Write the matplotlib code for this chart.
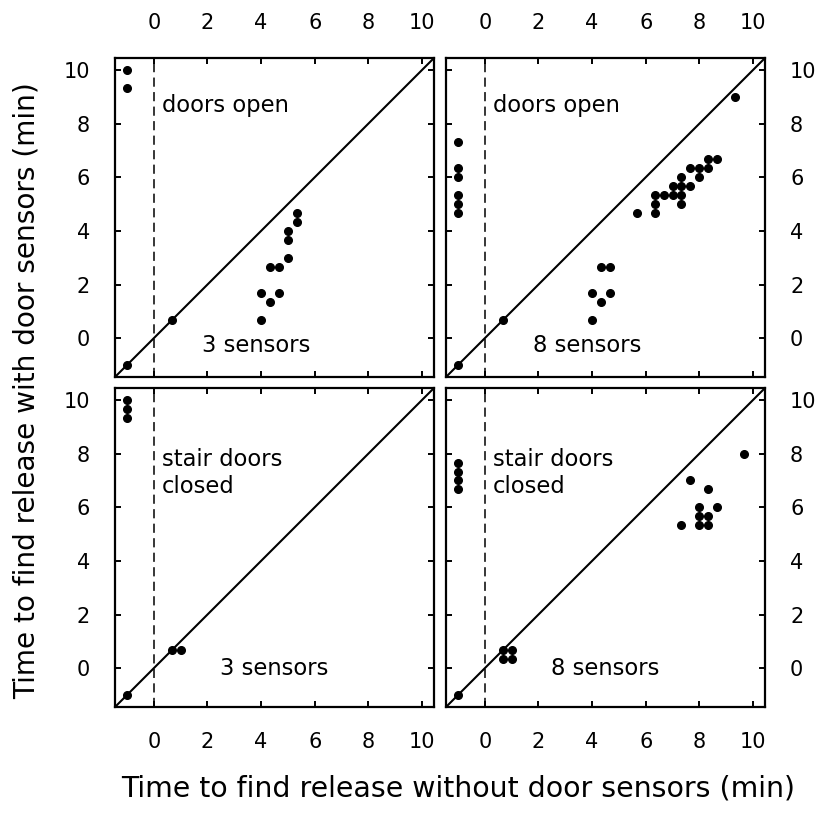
import matplotlib
matplotlib.use("Agg")
import matplotlib.pyplot as plt
import numpy as np

plt.rcParams['font.family'] = ['DejaVu Sans']

# ---- data (minutes) ----
tl_x = [-1, -1, -1, 0.67, 4, 4, 4.33, 4.33, 4.67, 4.67, 5, 5, 5, 5.33, 5.33]
tl_y = [10, 9.33, -1, 0.67, 0.67, 1.67, 1.33, 2.67, 2.67, 1.67, 3, 3.67, 4, 4.33, 4.67]

tr_x = [-1, -1, -1, -1, -1, -1, -1, 0.67, 4, 4, 4.33, 4.33, 4.67, 4.67,
        5.67, 6.33, 6.33, 6.33, 6.67, 7, 7, 7.33, 7.33, 7.33, 7.33,
        7.67, 7.67, 8, 8, 8.33, 8.33, 8.67, 9.33]
tr_y = [7.33, 6.33, 6, 5.33, 5, 4.67, -1, 0.67, 0.67, 1.67, 1.33, 2.67, 2.67, 1.67,
        4.67, 4.67, 5, 5.33, 5.33, 5.33, 5.67, 5, 5.33, 5.67, 6,
        5.67, 6.33, 6, 6.33, 6.33, 6.67, 6.67, 9]

bl_x = [-1, -1, -1, -1, 0.67, 1]
bl_y = [10, 9.67, 9.33, -1, 0.67, 0.67]

br_x = [-1, -1, -1, -1, -1, 0.67, 1, 0.67, 1, 7.67, 8.33, 8, 8.67, 8, 8.33, 7.33, 8, 8.33, 9.67]
br_y = [7.67, 7.33, 7, 6.67, -1, 0.67, 0.67, 0.33, 0.33, 7, 6.67, 6, 6, 5.67, 5.67, 5.33, 5.33, 5.33, 8]

ticks = [0, 2, 4, 6, 8, 10]
lim = (-1.45, 10.45)

conditions = ["doors open", "doors open", "stair doors\nclosed", "stair doors\nclosed"]
sensors = ["3 sensors", "8 sensors", "3 sensors", "8 sensors"]

fig = plt.figure(figsize=(8.22, 8.14), dpi=100)
W, H = 822, 814
boxes = [(115, 58), (446, 58), (115, 388), (446, 388)]
size = 319
datasets = [(tl_x, tl_y), (tr_x, tr_y), (bl_x, bl_y), (br_x, br_y)]

for i, ((px, py), (xs, ys)) in enumerate(zip(boxes, datasets)):
    ax = fig.add_axes([px / W, 1 - (py + size) / H, size / W, size / H])
    ax.set_xlim(lim)
    ax.set_ylim(lim)
    ax.plot(lim, lim, color='black', lw=1.5, zorder=2)
    ax.axvline(0, color='black', lw=1.1, ls=(0, (6, 3.5)), zorder=1)
    ax.plot(xs, ys, 'o', color='black', ms=5.5, zorder=3)
    ax.set_xticks(ticks)
    ax.set_yticks(ticks)
    top = i < 2
    left = i % 2 == 0
    ax.tick_params(direction='in', length=4, width=1.4, labelsize=15, pad=18,
                   top=True, bottom=True, left=True, right=True,
                   labeltop=top, labelbottom=not top,
                   labelleft=left, labelright=not left)
    for s in ax.spines.values():
        s.set_linewidth(1.6)
    if top:
        ax.text(0.31, 8.45, conditions[i], fontsize=16.3, va='baseline', ha='left')
        ax.text(1.8, -0.53, sensors[i], fontsize=16.3, va='baseline', ha='left')
    else:
        ax.text(0.29, 6.53, conditions[i], fontsize=16.3, va='baseline', ha='left',
                linespacing=1.2)
        ax.text(2.48, -0.24, sensors[i], fontsize=16.3, va='baseline', ha='left')

fig.text(458 / W, 1 - 788 / H, "Time to find release without door sensors (min)",
         fontsize=20.4, ha='center', va='center')
fig.text(27 / W, 1 - 391 / H, "Time to find release with door sensors (min)",
         fontsize=20.2, ha='center', va='center', rotation=90)

fig.savefig("out.png", dpi=100)
